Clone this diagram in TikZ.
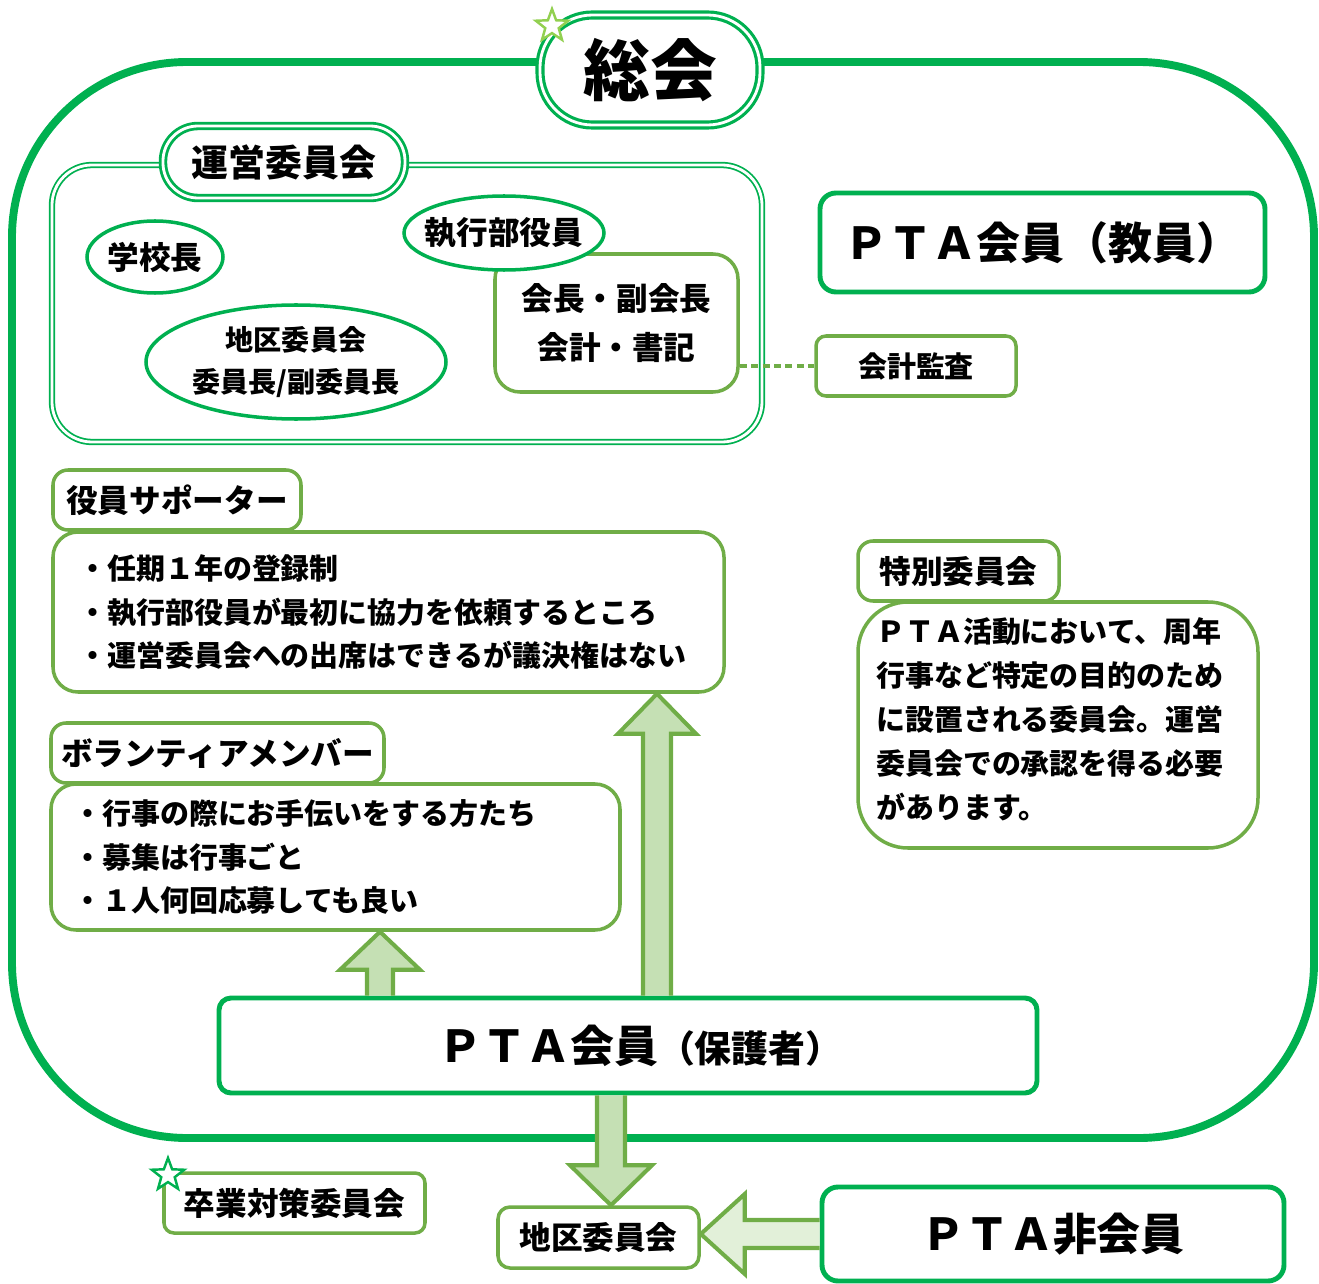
\documentclass[tikz,border=0pt]{standalone}
\usepackage{fontspec}
\setmainfont{Noto Sans CJK JP}
\usepackage{tikz}
\usetikzlibrary{shapes.geometric,calc}
\definecolor{dgreen}{HTML}{00B050}
\definecolor{lgreen}{HTML}{70AD47}
\definecolor{afill}{HTML}{C5E0B4}
\definecolor{afillpale}{HTML}{E2F0D9}
\definecolor{starlime}{HTML}{92D050}
\newcommand{\blockarrow}[6][afill]{%
	\coordinate (hb) at ($(#3)!#6!(#2)$);
	\draw[barrow, fill=#1] ($(#2)!#4!90:(#3)$) -- ($(hb)!#4!-90:(#2)$) -- ($(hb)!#5!-90:(#2)$) -- (#3) -- ($(hb)!#5!90:(#2)$) -- ($(hb)!#4!90:(#2)$) -- ($(#2)!#4!-90:(#3)$);}

\begin{document}
\begin{tikzpicture}[x=0.02cm, y=-0.02cm,
		boxsize/.style 2 args={minimum width=#1*0.02cm, minimum height=#2*0.02cm},
		dbox/.style={draw=dgreen, line width=2.8pt, fill=white, rounded corners=0.32cm, inner sep=0pt},
		lbox/.style={draw=lgreen, line width=2pt, fill=white, rounded corners=0.3cm, inner sep=0pt},
		oval/.style={ellipse, draw=dgreen, line width=2pt, fill=white, inner sep=0pt},
		twin/.style={draw=dgreen, double=white, line width=1.2pt, double distance=1.6pt, fill=white, inner sep=0pt},
		spark/.style={star, star points=5, star point ratio=2.4, minimum size=0.68cm, inner sep=0pt, fill=white, line width=1.4pt},
		barrow/.style={draw=lgreen, line width=2.3pt},
		dotline/.style={draw=lgreen, line width=2.3pt, dash pattern=on 4pt off 2.5pt},
		tag/.style={font=\bfseries\fontsize{18}{28}\selectfont},
		body/.style={font=\bfseries\fontsize{16.5}{25}\selectfont, align=left}]
		\useasboundingbox (0,0) rectangle (1319,1284);
		\draw[dgreen, line width=4.5pt, rounded corners=3.5cm] (12,62) rectangle (1314,1138);
		\node[twin, rounded corners=1.05cm, boxsize={220}{110}, line width=1.8pt, font=\bfseries\fontsize{38}{38}\selectfont] (sokai) at (650,70) {総会};

		\node[twin, rounded corners=0.8cm, boxsize={710}{277}, line width=1pt] (unei) at (407,303.5) {};
		\node[twin, rounded corners=0.7cm, boxsize={242}{72}, line width=1.6pt, font=\bfseries\fontsize{21}{21}\selectfont] (uneititle) at (284,162) {運営委員会};
		\node[lbox, rounded corners=0.5cm, boxsize={243}{138}, align=center, tag] (exec) at (616.5,323) {会長・副会長\\会計・書記};
		\node[oval, boxsize={200}{74}, inner xsep=-0.17cm, tag] (shikko) at (504,233) {執行部役員};
		\node[oval, boxsize={136}{72}, tag] (kochou) at (155,257) {学校長};
		\node[oval, boxsize={300}{114}, align=center, font=\bfseries\fontsize{16}{24}\selectfont] (chikuchou) at (296,362) {地区委員会\\委員長/副委員長};

		\node[lbox, boxsize={200}{60}, rounded corners=0.2cm, font=\bfseries\fontsize{16.5}{16.5}\selectfont] (kansa) at (916,366) {会計監査};
		\draw[dotline] (exec.east |- kansa.west) -- (kansa.west);
		\node[dbox, boxsize={445}{99}, font=\bfseries\fontsize{25}{25}\selectfont] (teacher) at (1042.5,242.5) {ＰＴＡ会員（教員）};

		\node[lbox, boxsize={248}{60}, tag] (suptab) at (177,500) {役員サポーター};
		\node[lbox, rounded corners=0.5cm, boxsize={671}{160}, text width=12.42cm, inner xsep=0.5cm, body] (supbody) at (388.5,612) {・任期１年の登録制\\・執行部役員が最初に協力を依頼するところ\\・運営委員会への出席はできるが議決権はない};
		\node[lbox, boxsize={333}{60}, tag] (voltab) at (217.5,753) {ボランティアメンバー};
		\node[lbox, rounded corners=0.5cm, boxsize={569}{146}, text width=10.5cm, inner xsep=0.44cm, body] (volbody) at (335.5,857) {・行事の際にお手伝いをする方たち\\・募集は行事ごと\\・１人何回応募しても良い};
		\node[lbox, boxsize={201}{60}, tag] (sptab) at (958.5,571) {特別委員会};
		\node[lbox, rounded corners=1cm, boxsize={400}{246}, text width=7.28cm, inner xsep=0.36cm, inner ysep=0.14cm, body] (spbody) at (1058,725) {ＰＴＡ活動において、周年\\行事など特定の目的のため\\に設置される委員会。運営\\委員会での承認を得る必要\\があります。\\[-0.6cm]\mbox{}};

		\node[dbox, boxsize={818}{95}, rounded corners=0.24cm, font=\bfseries] (parent) at (628,1045.5) {\hspace*{0.5cm}{\fontsize{25}{25}\selectfont ＰＴＡ会員}{\fontsize{21}{21}\selectfont （保護者）}};
		\node[lbox, boxsize={201}{61}, rounded corners=0.24cm, tag] (chiku) at (598.5,1237.5) {地区委員会};
		\node[dbox, boxsize={462}{94}, font=\bfseries\fontsize{25}{25}\selectfont] (nonmem) at (1053,1234) {ＰＴＡ非会員};
		\node[lbox, boxsize={261}{60}, rounded corners=0.2cm, tag] (sotsu) at (294.5,1203) {卒業対策委員会};

		\coordinate (upa) at ($(parent.north)+(29,0)$);
		\coordinate (upatip) at (upa |- supbody.south);
		\blockarrow{upa}{upatip}{0.28cm}{0.78cm}{0.8cm}
		\coordinate (upb) at ($(parent.north)+(-248,0)$);
		\coordinate (upbtip) at (upb |- volbody.south);
		\blockarrow{upb}{upbtip}{0.26cm}{0.8cm}{0.76cm}
		\coordinate (dna) at ($(parent.south)+(-17,0)$);
		\coordinate (dnatip) at (dna |- chiku.north);
		\blockarrow{dna}{dnatip}{0.28cm}{0.82cm}{0.8cm}
		\coordinate (lfa) at (nonmem.west);
		\coordinate (lfatip) at (chiku.east |- lfa);
		\blockarrow[afillpale]{lfa}{lfatip}{0.28cm}{0.8cm}{0.88cm}

		\node[spark, draw=starlime] (star1) at (552,26) {};
		\node[spark, draw=dgreen] (star2) at (168,1175) {};
	\end{tikzpicture}
\end{document}
